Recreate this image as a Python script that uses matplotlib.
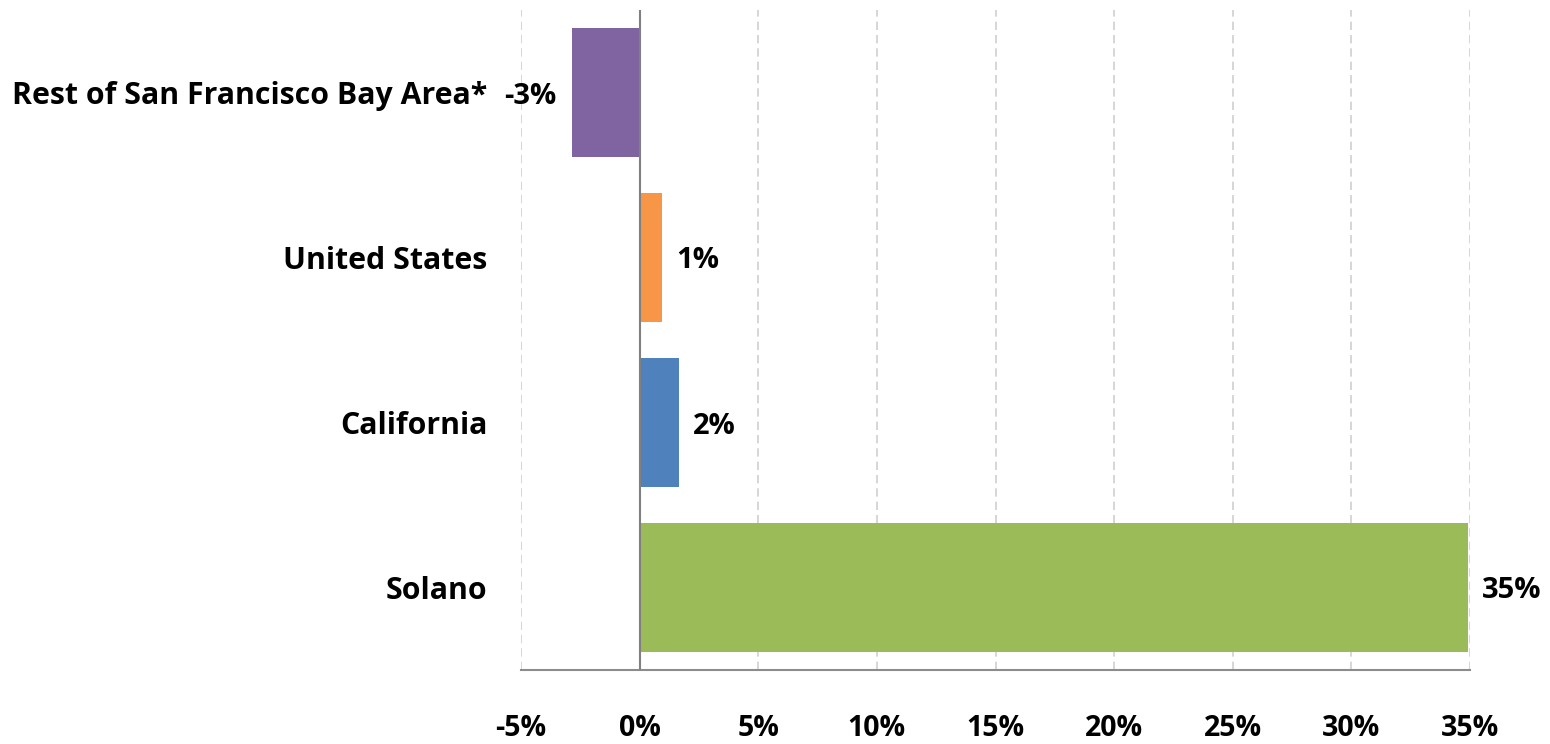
import numpy as np
import matplotlib
matplotlib.use("Agg")
import matplotlib.pyplot as plt
from matplotlib.ticker import FuncFormatter

# Data (percent change)
categories = ["Solano", "California", "United States", "Rest of San Francisco Bay Area*"]
values = [34.9, 1.65, 0.93, -2.85]
value_labels = ["35%", "2%", "1%", "-3%"]
colors = ["#9BBB59", "#4F81BD", "#F79646", "#8064A2"]
x_ticks = [-5, 0, 5, 10, 15, 20, 25, 30, 35]

plt.rcParams["font.family"] = ["Open Sans", "DejaVu Sans"]

fig = plt.figure(figsize=(15.5, 7.44), dpi=100)
ax = fig.add_axes([521 / 1550, 1 - 670 / 744, (1470 - 521) / 1550, 660 / 744])

y = np.arange(len(categories))
ax.barh(y, values, height=0.78, color=colors, zorder=3)

ax.set_xlim(-5, 35)
ax.set_ylim(-0.5, len(categories) - 0.5)
ax.set_xticks(x_ticks)
ax.xaxis.set_major_formatter(FuncFormatter(lambda v, p: f"{v:.0f}%"))
ax.tick_params(axis="x", length=0, pad=32, labelsize=20.5)
for t in ax.get_xticklabels():
    t.set_fontweight("bold")
ax.set_yticks(y)
ax.set_yticklabels(categories, fontsize=21.8, fontweight="bold", va="center_baseline")
ax.tick_params(axis="y", length=0, pad=24)

ax.grid(axis="x", linestyle=(0, (5, 3)), color="#D0D0D0", linewidth=1.2, zorder=0)
ax.axvline(0, color="#808080", linewidth=1.5, zorder=4)

for side in ["left", "right", "top"]:
    ax.spines[side].set_visible(False)
ax.spines["bottom"].set_color("#8C8C8C")
ax.spines["bottom"].set_linewidth(1.5)

for yi, v, lab in zip(y, values, value_labels):
    if v < 0:
        ax.text(v - 0.65, yi, lab, ha="right", va="center_baseline", fontsize=21, fontweight="bold")
    else:
        ax.text(v + 0.6, yi, lab, ha="left", va="center_baseline", fontsize=21, fontweight="bold")

fig.savefig("out.png", dpi=100)
